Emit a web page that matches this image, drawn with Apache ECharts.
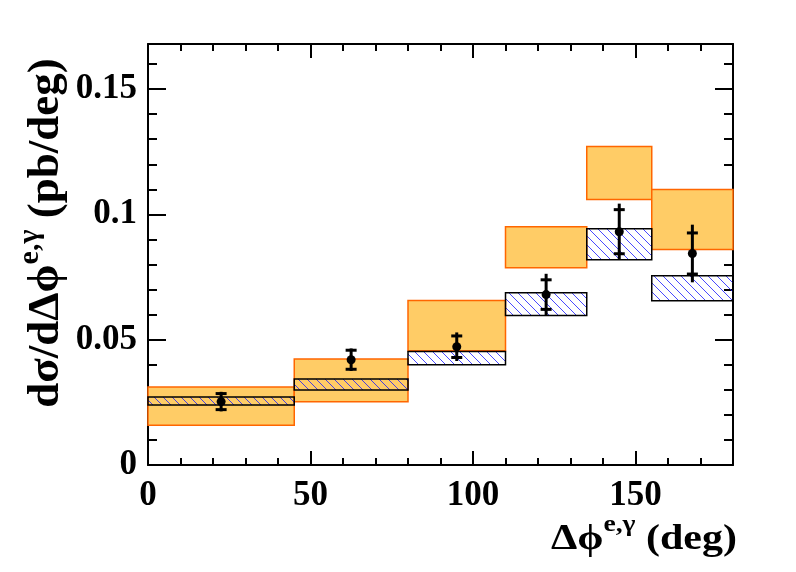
<!DOCTYPE html>
<html>
<head>
<meta charset="utf-8">
<script src="https://cdn.jsdelivr.net/npm/echarts@6/dist/echarts.min.js"></script>
<style>html,body{margin:0;padding:0;background:#fff}#c{width:796px;height:572px}</style>
</head>
<body>
<div id="c"></div>
<script>
// ---- data ----
const binEdges = [0, 45, 80, 110, 135, 155, 180];
const binCenters = [22.5, 62.5, 95, 122.5, 145, 167.5];
const dataValues = [0.0253, 0.0420, 0.0472, 0.0680, 0.0931, 0.0844];
const statErr = [0.0032, 0.0038, 0.0043, 0.0059, 0.0088, 0.0082];
const totErr = [0.0039, 0.0045, 0.0057, 0.0083, 0.0112, 0.0115];
const bandALow = [0.0159, 0.0252, 0.0456, 0.0787, 0.1059, 0.0860];
const bandAHigh = [0.0311, 0.0423, 0.0656, 0.0951, 0.1271, 0.1099];
const bandBLow = [0.0239, 0.0299, 0.0400, 0.0597, 0.0819, 0.0655];
const bandBHigh = [0.0271, 0.0343, 0.0453, 0.0687, 0.0943, 0.0755];
const xTickMajor = 50, xTickMinor = 10;
const yTickMajor = 0.05, yTickMinor = 0.01;
const xMin = 0, xMax = 180, yMin = 0, yMax = 0.168;

// hatch pattern
const pc = document.createElement('canvas');
pc.width = 9; pc.height = 9;
const g = pc.getContext('2d');
g.strokeStyle = '#1a1aff'; g.lineWidth = 0.8;
g.beginPath(); g.moveTo(-1, -1); g.lineTo(10, 10); g.stroke();
const hatch = { image: pc, repeat: 'repeat' };

const boxA = binCenters.map((c, i) => [binEdges[i], binEdges[i + 1], bandALow[i], bandAHigh[i]]);
const boxB = binCenters.map((c, i) => [binEdges[i], binEdges[i + 1], bandBLow[i], bandBHigh[i]]);
const pts = binCenters.map((c, i) => [c, dataValues[i], statErr[i], totErr[i]]);

const F = 'Liberation Serif';
function xAx(pos, interval, len, labels, line) {
  return {
    type: 'value', position: pos, min: xMin, max: xMax, interval: interval,
    axisLine: { show: line, onZero: false, lineStyle: { color: '#000', width: 2 } },
    axisTick: { show: true, inside: true, length: len, lineStyle: { color: '#000', width: 2 } },
    axisLabel: { show: labels, showMaxLabel: false, margin: 13, fontFamily: F, fontWeight: 'bold', fontSize: 35, color: '#000' },
    splitLine: { show: false }
  };
}
function yAx(pos, interval, len, labels, line) {
  return {
    type: 'value', position: pos, min: yMin, max: yMax, interval: interval,
    axisLine: { show: line, onZero: false, lineStyle: { color: '#000', width: 2 } },
    axisTick: { show: true, inside: true, length: len, lineStyle: { color: '#000', width: 2 } },
    axisLabel: { show: labels, showMaxLabel: false, margin: 11, fontFamily: F, fontWeight: 'bold', fontSize: 35, color: '#000' },
    splitLine: { show: false }
  };
}

function boxRender(fill, stroke) {
  return function (params, api) {
    const p1 = api.coord([api.value(0), api.value(3)]);
    const p2 = api.coord([api.value(1), api.value(2)]);
    return {
      type: 'rect',
      shape: { x: p1[0], y: p1[1], width: p2[0] - p1[0], height: p2[1] - p1[1] },
      style: { fill: fill, stroke: stroke, lineWidth: 1.5 }
    };
  };
}

const option = {
  animation: false,
  backgroundColor: '#fff',
  grid: { left: 148, right: 63, top: 44, bottom: 107 },
  xAxis: [
    xAx('bottom', xTickMajor, 14, true, true),
    xAx('bottom', xTickMinor, 7, false, false),
    xAx('top', xTickMajor, 14, false, true),
    xAx('top', xTickMinor, 7, false, false)
  ],
  yAxis: [
    yAx('left', yTickMajor, 18, true, true),
    yAx('left', yTickMinor, 9, false, false),
    yAx('right', yTickMajor, 18, false, true),
    yAx('right', yTickMinor, 9, false, false)
  ],
  series: [
    { type: 'custom', data: boxA, encode: { x: [0, 1], y: [2, 3] }, renderItem: boxRender('#ffcc66', '#ff6600'), z: 1 },
    { type: 'custom', data: boxB, encode: { x: [0, 1], y: [2, 3] }, renderItem: boxRender(hatch, '#000'), z: 2 },
    {
      type: 'custom', data: pts, encode: { x: 0, y: 1 }, z: 3,
      renderItem: function (params, api) {
        const x = api.value(0), y = api.value(1), s = api.value(2), t = api.value(3);
        const c = api.coord([x, y]);
        const tl = api.coord([x, y - t]), th = api.coord([x, y + t]);
        const sl = api.coord([x, y - s]), sh = api.coord([x, y + s]);
        const ls = { stroke: '#000', lineWidth: 3 };
        return {
          type: 'group', children: [
            { type: 'line', shape: { x1: c[0], y1: tl[1], x2: c[0], y2: th[1] }, style: ls },
            { type: 'line', shape: { x1: c[0] - 5.5, y1: sl[1], x2: c[0] + 5.5, y2: sl[1] }, style: ls },
            { type: 'line', shape: { x1: c[0] - 5.5, y1: sh[1], x2: c[0] + 5.5, y2: sh[1] }, style: ls },
            { type: 'circle', shape: { cx: c[0], cy: c[1], r: 4.5 }, style: { fill: '#000' } }
          ]
        };
      }
    }
  ],
  graphic: [
    {
      type: 'text', x: 737, y: 566, scaleX: 1.2,
      style: {
        text: 'Δϕ{sup|e,γ} (deg)', align: 'right', verticalAlign: 'bottom',
        font: 'bold 35px "Liberation Serif"', fill: '#000',
        rich: { sup: { fontSize: 23, fontWeight: 'bold', fontFamily: F, verticalAlign: 'top', lineHeight: 52 } }
      }
    },
    {
      type: 'text', x: 46, y: 233, rotation: Math.PI / 2,
      style: {
        text: 'dσ/dΔϕ{sup|e,γ} (pb/deg)', align: 'center', verticalAlign: 'middle',
        font: 'bold 45px "Liberation Serif"', fill: '#000',
        rich: { sup: { fontSize: 30, fontWeight: 'bold', fontFamily: F, verticalAlign: 'top', lineHeight: 62 } }
      }
    }
  ]
};
echarts.init(document.getElementById('c')).setOption(option);
</script>
</body>
</html>
